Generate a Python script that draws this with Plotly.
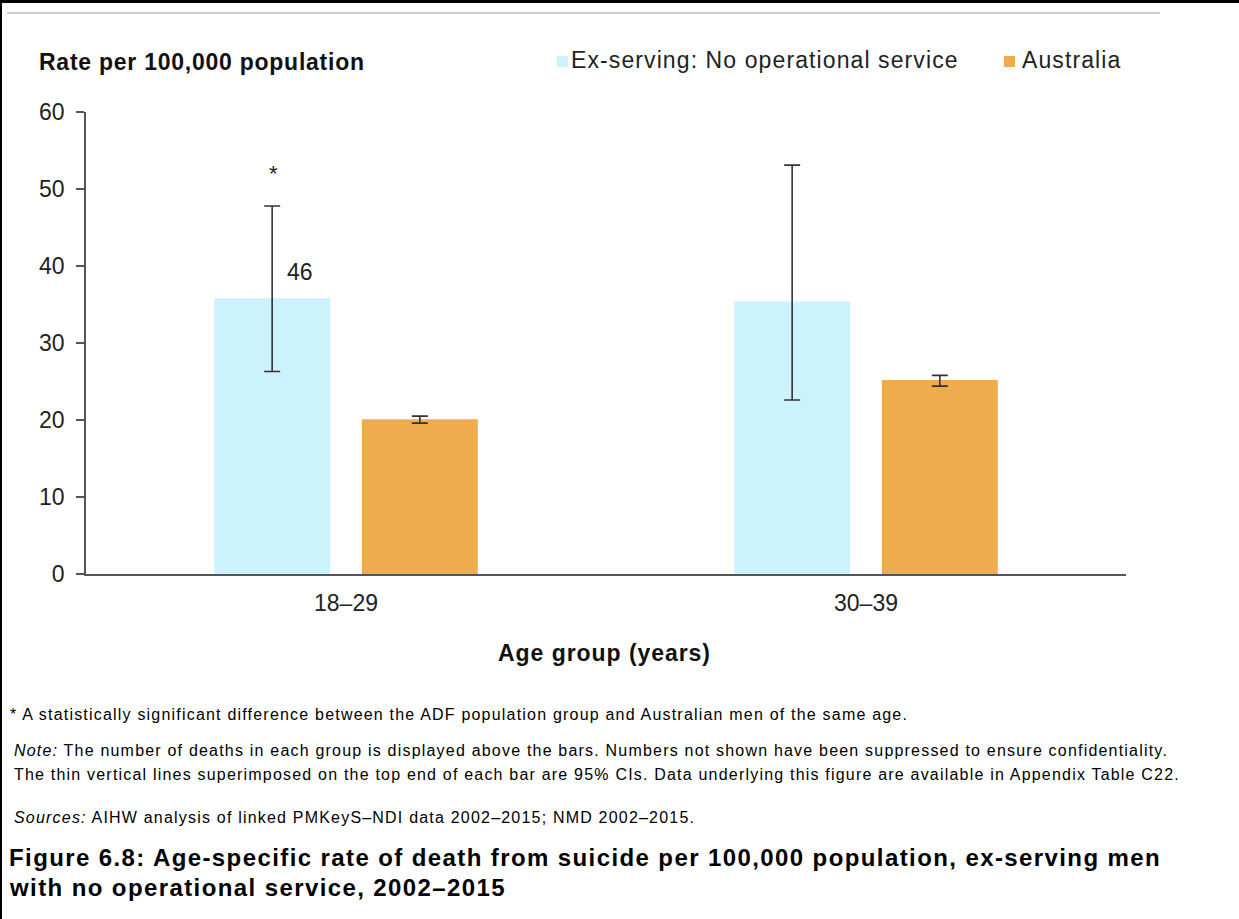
import plotly.graph_objects as go

# ---------------- data ----------------
categories = ["18–29", "30–39"]
series_names = ["Ex-serving: No operational service", "Australia"]
exserving_rate = [35.8, 35.4]
exserving_ci_low = [26.3, 22.6]
exserving_ci_high = [47.8, 53.1]
australia_rate = [20.1, 25.2]
australia_ci_low = [19.6, 24.4]
australia_ci_high = [20.5, 25.8]
exserving_deaths = ["46", ""]
exserving_significant = [True, False]
y_ticks = [0, 10, 20, 30, 40, 50, 60]

colors = ["#CCF3FD", "#EEAC4E"]
FONT = "Liberation Sans, Arial, sans-serif"

W, H = 1239, 919
L, R, T, B = 86, 1239 - 1126, 112, 919 - 574
PW, PH = W - L - R, H - T - B


def px(x):
    return (x - L) / PW


def py(y):
    return (H - B - y) / PH


def spaced(text, ls):
    return '<span style="letter-spacing:%spx">%s</span>' % (ls, text)


fig = go.Figure()
rates = [exserving_rate, australia_rate]
lows = [exserving_ci_low, australia_ci_low]
highs = [exserving_ci_high, australia_ci_high]
for i in range(2):
    fig.add_trace(go.Bar(
        x=categories, y=rates[i], name=series_names[i],
        marker=dict(color=colors[i], line=dict(width=0)),
        error_y=dict(type="data", symmetric=False,
                     array=[h - v for h, v in zip(highs[i], rates[i])],
                     arrayminus=[v - l for v, l in zip(rates[i], lows[i])],
                     color="#333333", thickness=1.6, width=8),
        showlegend=False,
    ))

annotations = []
# death counts and significance markers
for c, n, sig, hi, v in zip(categories, exserving_deaths, exserving_significant,
                            exserving_ci_high, exserving_rate):
    if n:
        annotations.append(dict(x=c, y=v, yref="y", xref="x", text=n,
                                showarrow=False, xshift=-46, yshift=11,
                                font=dict(family=FONT, size=23, color="#222"),
                                xanchor="center", yanchor="bottom"))
    if sig:
        annotations.append(dict(x=c, y=hi, xref="x", yref="y", text="*",
                                showarrow=False, xshift=-73, yshift=18,
                                font=dict(family=FONT, size=22, color="#222"),
                                xanchor="center", yanchor="bottom"))

# axis titles
annotations.append(dict(xref="paper", yref="paper", x=px(37), y=py(62),
                        text="<b>" + spaced("Rate per 100,000 population", 0.75) + "</b>",
                        showarrow=False, xanchor="left", yanchor="middle",
                        font=dict(family=FONT, size=23, color="#111")))
annotations.append(dict(xref="paper", yref="paper", x=px(604), y=py(653),
                        text="<b>" + spaced("Age group (years)", 0.95) + "</b>",
                        showarrow=False, xanchor="center", yanchor="middle",
                        font=dict(family=FONT, size=23, color="#111")))

# legend (manual)
shapes = []
legend_pos = [(557, 569), (1004, 1020)]
for (sx, tx), name, col in zip(legend_pos, series_names, colors):
    shapes.append(dict(type="rect", xref="paper", yref="paper",
                       x0=px(sx), x1=px(sx + 11), y0=py(67), y1=py(56),
                       fillcolor=col, line=dict(width=0)))
    annotations.append(dict(xref="paper", yref="paper", x=px(tx), y=py(60),
                            text=spaced(name, 1.1), showarrow=False, xanchor="left",
                            yanchor="middle",
                            font=dict(family=FONT, size=23, color="#222")))

# footnotes
foot = [
    (714, "* A statistically significant difference between the ADF population group and Australian men of the same age.", 8),
    (750, "<i>Note:</i> The number of deaths in each group is displayed above the bars. Numbers not shown have been suppressed to ensure confidentiality.", 12),
    (775, "The thin vertical lines superimposed on the top end of each bar are 95% CIs. Data underlying this figure are available in Appendix Table C22.", 12),
    (817, "<i>Sources:</i> AIHW analysis of linked PMKeyS–NDI data 2002–2015; NMD 2002–2015.", 12),
]
for yy, txt, xx in foot:
    annotations.append(dict(xref="paper", yref="paper", x=px(xx), y=py(yy),
                            text=spaced(txt, 1.2), showarrow=False, xanchor="left",
                            yanchor="middle",
                            font=dict(family=FONT, size=16, color="#000")))
for yy, txt in [(858, "Figure 6.8: Age-specific rate of death from suicide per 100,000 population, ex-serving men"),
                (887, "with no operational service, 2002–2015")]:
    annotations.append(dict(xref="paper", yref="paper", x=px(7), y=py(yy),
                            text="<b>" + spaced(txt, 1.4) + "</b>", showarrow=False,
                            xanchor="left", yanchor="middle",
                            font=dict(family=FONT, size=24, color="#000")))

# page decorations: black frame edges and grey rule
shapes.append(dict(type="rect", xref="paper", yref="paper", x0=px(0), x1=px(W),
                   y0=py(3), y1=py(0), fillcolor="#000", line=dict(width=0), layer="above"))
shapes.append(dict(type="rect", xref="paper", yref="paper", x0=px(0), x1=px(2),
                   y0=py(H), y1=py(0), fillcolor="#000", line=dict(width=0), layer="above"))
shapes.append(dict(type="line", xref="paper", yref="paper", x0=px(7), x1=px(1160),
                   y0=py(13), y1=py(13), line=dict(color="#BFBFBF", width=1.5)))

fig.update_layout(
    width=W, height=H, autosize=False,
    margin=dict(l=L, r=R, t=T, b=B, pad=0),
    paper_bgcolor="white", plot_bgcolor="white",
    barmode="group", bargap=0.432, bargroupgap=0.215,
    font=dict(family=FONT, color="#222"),
    xaxis=dict(showline=True, linecolor="#555", linewidth=1.5, ticks="",
               tickfont=dict(family=FONT, size=23, color="#222"),
               showgrid=False, zeroline=False, ticklabelstandoff=8),
    yaxis=dict(range=[0, 60], tickvals=y_ticks, showline=True, linecolor="#555",
               linewidth=1.5, ticks="outside", ticklen=8, tickcolor="#555",
               tickwidth=1.5, showgrid=False, zeroline=False,
               tickfont=dict(family=FONT, size=23, color="#222"),
               ticklabelstandoff=7),
    annotations=annotations, shapes=shapes,
)

fig.write_html(
    "out.html",
    config={"displayModeBar": False},
    post_script="document.body.style.margin='0';document.body.style.overflow='hidden';",
)
